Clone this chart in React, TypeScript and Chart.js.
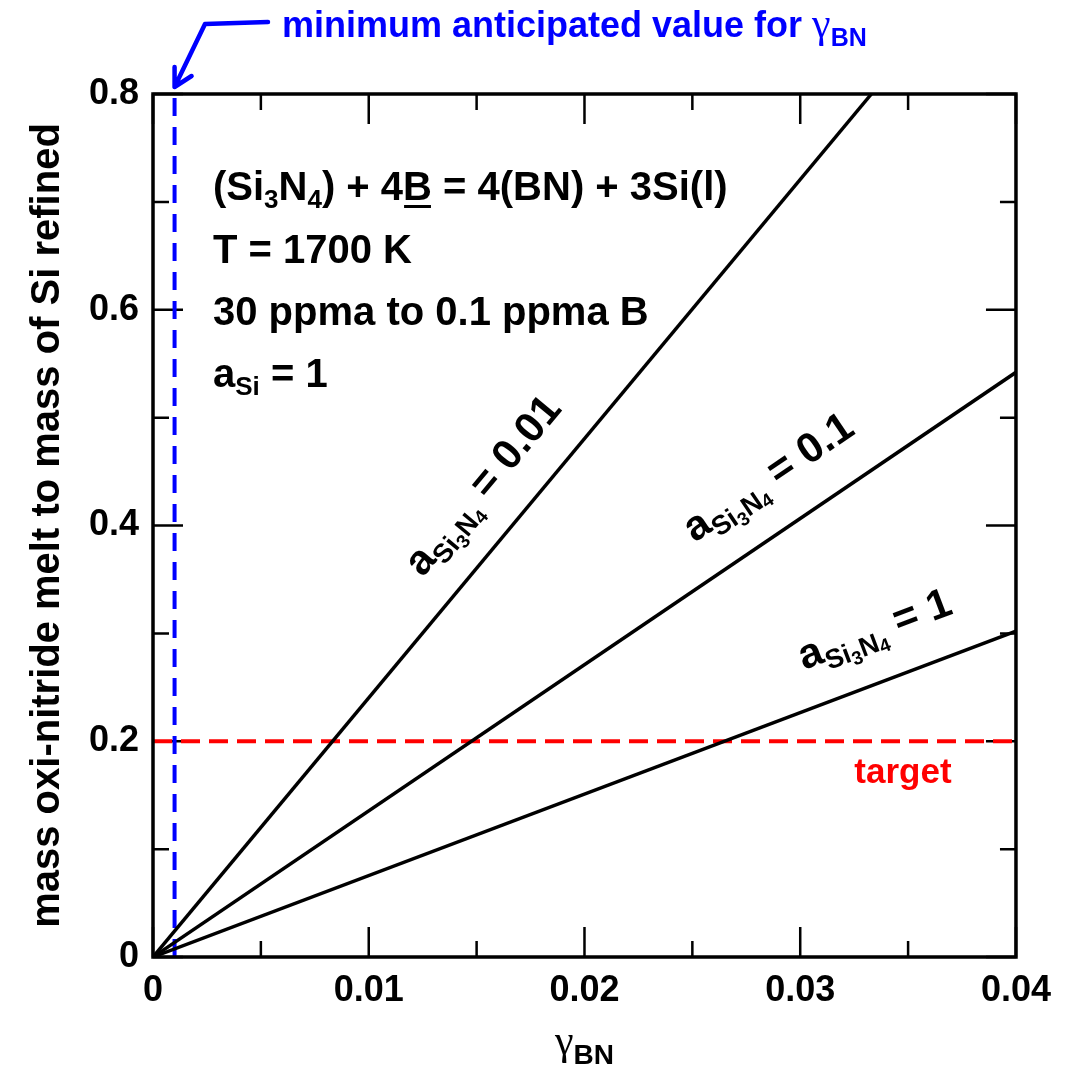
import React, { useEffect, useRef } from 'react';
import { Chart, registerables } from 'chart.js';

Chart.register(...registerables);

// ---- data ----
const gammaBNFull = [0, 0.04];
const gammaBNSteep = [0, 0.0333];
const massRatioA1 = [0, 0.302];
const massRatioA01 = [0, 0.542];
const massRatioA001 = [0, 0.8];
const targetMassRatio = 0.2;
const minGammaBN = 0.001;
const xTickLabels = ['0', '0.01', '0.02', '0.03', '0.04'];
const yTickLabels = ['0', '0.2', '0.4', '0.6', '0.8'];
const activityValues = ['0.01', '0.1', '1'];
// label anchors in data coordinates (gamma, mass ratio)
const activityLabelAnchorsX = [0.01250, 0.02510, 0.03018];
const activityLabelAnchorsY = [0.3513, 0.3838, 0.2661];

const SANS = '"Liberation Sans", Arial, Helvetica, sans-serif';
const SERIF = '"Liberation Serif", "DejaVu Serif", serif';

type Seg = { t: string; size: number; dy?: number; serif?: boolean; bold?: boolean; underline?: boolean };

function segFont(s: Seg) {
  const bold = s.bold === false ? '' : 'bold ';
  return `${s.serif ? '' : bold}${s.size}px ${s.serif ? SERIF : SANS}`;
}

function drawRich(ctx: CanvasRenderingContext2D, segs: Seg[], x: number, y: number, align: 'left' | 'center' = 'left') {
  const widths = segs.map((s) => {
    ctx.font = segFont(s);
    return ctx.measureText(s.t).width;
  });
  const total = widths.reduce((a, b) => a + b, 0);
  let cx = align === 'center' ? x - total / 2 : x;
  ctx.textBaseline = 'alphabetic';
  ctx.textAlign = 'left';
  segs.forEach((s, i) => {
    ctx.font = segFont(s);
    ctx.fillText(s.t, cx, y + (s.dy || 0));
    if (s.underline) ctx.fillRect(cx + 1, y + 5, widths[i] - 2, 3);
    cx += widths[i];
  });
}

const decorPlugin = {
  id: 'decor',
  beforeDatasetsDraw(chart: any) {
    const ctx: CanvasRenderingContext2D = chart.ctx;
    const { left, right, top, bottom } = chart.chartArea;
    const xs = chart.scales.x;
    const ys = chart.scales.y;
    ctx.save();
    ctx.strokeStyle = '#000';
    ctx.lineWidth = 2.5;
    ctx.beginPath();
    xs.ticks.forEach((t: any) => {
      const p = xs.getPixelForValue(t.value);
      const len = t.label ? 30 : 16;
      ctx.moveTo(p, bottom);
      ctx.lineTo(p, bottom - len);
      ctx.moveTo(p, top);
      ctx.lineTo(p, top + len);
    });
    ys.ticks.forEach((t: any) => {
      const p = ys.getPixelForValue(t.value);
      const len = t.label ? 30 : 16;
      ctx.moveTo(left, p);
      ctx.lineTo(left + len, p);
      ctx.moveTo(right, p);
      ctx.lineTo(right - len, p);
    });
    ctx.stroke();
    ctx.restore();
  },
  afterDatasetsDraw(chart: any) {
    const ctx: CanvasRenderingContext2D = chart.ctx;
    const { left, right, top, bottom } = chart.chartArea;
    const xs = chart.scales.x;
    const ys = chart.scales.y;
    ctx.save();
    // frame
    ctx.strokeStyle = '#000';
    ctx.lineWidth = 3.5;
    ctx.strokeRect(left, top, right - left, bottom - top);

    // condition text block
    ctx.fillStyle = '#000';
    const S = 40;
    const sub = 26;
    drawRich(ctx, [
      { t: '(Si', size: S },
      { t: '3', size: sub, dy: 8 },
      { t: 'N', size: S },
      { t: '4', size: sub, dy: 8 },
      { t: ') + 4', size: S },
      { t: 'B', size: S, underline: true },
      { t: ' = 4(BN) + 3Si(l)', size: S },
    ], 213, 200);
    drawRich(ctx, [{ t: 'T = 1700 K', size: S }], 213, 263);
    drawRich(ctx, [{ t: '30 ppma to 0.1 ppma B', size: S }], 213, 325);
    drawRich(ctx, [
      { t: 'a', size: S },
      { t: 'Si', size: sub, dy: 8 },
      { t: ' = 1', size: S },
    ], 213, 387);

    // activity labels along lines
    const lines = [
      [gammaBNSteep, massRatioA001],
      [gammaBNFull, massRatioA01],
      [gammaBNFull, massRatioA1],
    ];
    activityValues.forEach((v, i) => {
      const [gx, my] = lines[i];
      const x0 = xs.getPixelForValue(gx[0]);
      const y0 = ys.getPixelForValue(my[0]);
      const x1 = xs.getPixelForValue(gx[1]);
      const y1 = ys.getPixelForValue(my[1]);
      const ang = Math.atan2(y1 - y0, x1 - x0);
      const ax = xs.getPixelForValue(activityLabelAnchorsX[i]);
      const ay = ys.getPixelForValue(activityLabelAnchorsY[i]);
      ctx.save();
      ctx.translate(ax, ay);
      ctx.rotate(ang);
      drawRich(ctx, [
        { t: 'a', size: 42 },
        { t: 'Si', size: 27, dy: 9 },
        { t: '3', size: 19, dy: 14 },
        { t: 'N', size: 27, dy: 9 },
        { t: '4', size: 19, dy: 12 },
        { t: ' = ' + v, size: 42 },
      ], 0, 0);
      ctx.restore();
    });

    // target label
    ctx.fillStyle = '#ff0000';
    drawRich(ctx, [{ t: 'target', size: 35 }], xs.getPixelForValue(0.03476), ys.getPixelForValue(targetMassRatio) + 42, 'center');

    // top blue annotation and arrow
    ctx.fillStyle = '#0000ff';
    drawRich(ctx, [
      { t: 'minimum anticipated value for ', size: 36 },
      { t: 'γ', size: 42, serif: true },
      { t: 'BN', size: 25, dy: 9 },
    ], 282, 37);
    ctx.strokeStyle = '#0000ff';
    ctx.lineWidth = 4.5;
    ctx.lineCap = 'round';
    ctx.lineJoin = 'round';
    const tipX = xs.getPixelForValue(minGammaBN);
    const tipY = top - 7;
    ctx.beginPath();
    ctx.moveTo(268, 22);
    ctx.lineTo(205, 24);
    ctx.lineTo(tipX, tipY);
    ctx.moveTo(tipX, tipY - 20);
    ctx.lineTo(tipX, tipY);
    ctx.lineTo(tipX + 17, tipY - 11);
    ctx.stroke();

    // axis titles
    ctx.fillStyle = '#000';
    const cxm = (left + right) / 2;
    drawRich(ctx, [
      { t: 'γ', size: 42, serif: true },
      { t: 'BN', size: 28, dy: 10 },
    ], cxm, 1054, 'center');
    ctx.save();
    ctx.translate(59, (top + bottom) / 2);
    ctx.rotate(-Math.PI / 2);
    drawRich(ctx, [{ t: 'mass oxi-nitride melt to mass of Si refined', size: 40 }], 0, 0, 'center');
    ctx.restore();

    ctx.restore();
  },
};

export default function App() {
  const ref = useRef<HTMLCanvasElement | null>(null);
  useEffect(() => {
    if (!ref.current) return;
    const toPts = (xa: number[], ya: number[]) => xa.map((x, i) => ({ x, y: ya[i] }));
    const chart = new Chart(ref.current, {
      type: 'line',
      data: {
        datasets: [
          { label: 'a=0.01', data: toPts(gammaBNSteep, massRatioA001), borderColor: '#000', borderWidth: 3.5, pointRadius: 0 },
          { label: 'a=0.1', data: toPts(gammaBNFull, massRatioA01), borderColor: '#000', borderWidth: 3.5, pointRadius: 0 },
          { label: 'a=1', data: toPts(gammaBNFull, massRatioA1), borderColor: '#000', borderWidth: 3.5, pointRadius: 0 },
          { label: 'target', data: toPts(gammaBNFull, [targetMassRatio, targetMassRatio]), borderColor: '#ff0000', borderWidth: 4, borderDash: [19, 9], pointRadius: 0 },
          { label: 'min', data: toPts([minGammaBN, minGammaBN], [0, 0.8]), borderColor: '#0000ff', borderWidth: 4, borderDash: [18, 11], pointRadius: 0 },
        ],
      },
      options: {
        responsive: false,
        animation: false,
        events: [],
        layout: { padding: { top: 94, right: 51, left: 0, bottom: 0 } },
        plugins: { legend: { display: false }, tooltip: { enabled: false } },
        scales: {
          x: {
            type: 'linear',
            min: 0,
            max: 0.04,
            grid: { display: false, drawTicks: false },
            border: { display: false },
            afterFit: (s: any) => { s.height = 117; },
            ticks: {
              stepSize: 0.005,
              autoSkip: false,
              maxRotation: 0,
              padding: 16,
              color: '#000',
              font: { family: SANS, size: 36, weight: 'bold', lineHeight: 1 },
              callback: (v: any) => {
                const k = Math.round(Number(v) / 0.005);
                return k % 2 === 0 ? xTickLabels[k / 2] : '';
              },
            },
          },
          y: {
            type: 'linear',
            min: 0,
            max: 0.8,
            grid: { display: false, drawTicks: false },
            border: { display: false },
            afterFit: (s: any) => { s.width = 153; },
            ticks: {
              stepSize: 0.1,
              autoSkip: false,
              padding: 14,
              color: '#000',
              font: { family: SANS, size: 36, weight: 'bold', lineHeight: 1 },
              callback: (v: any) => {
                const k = Math.round(Number(v) / 0.1);
                return k % 2 === 0 ? yTickLabels[k / 2] : '';
              },
            },
          },
        },
      },
      plugins: [decorPlugin],
    } as any);
    return () => chart.destroy();
  }, []);
  return (
    <div style={{ position: 'absolute', left: 0, top: 0, width: 1067, height: 1074, background: '#fff' }}>
      <canvas ref={ref} width={1067} height={1074} style={{ display: 'block' }} />
    </div>
  );
}
